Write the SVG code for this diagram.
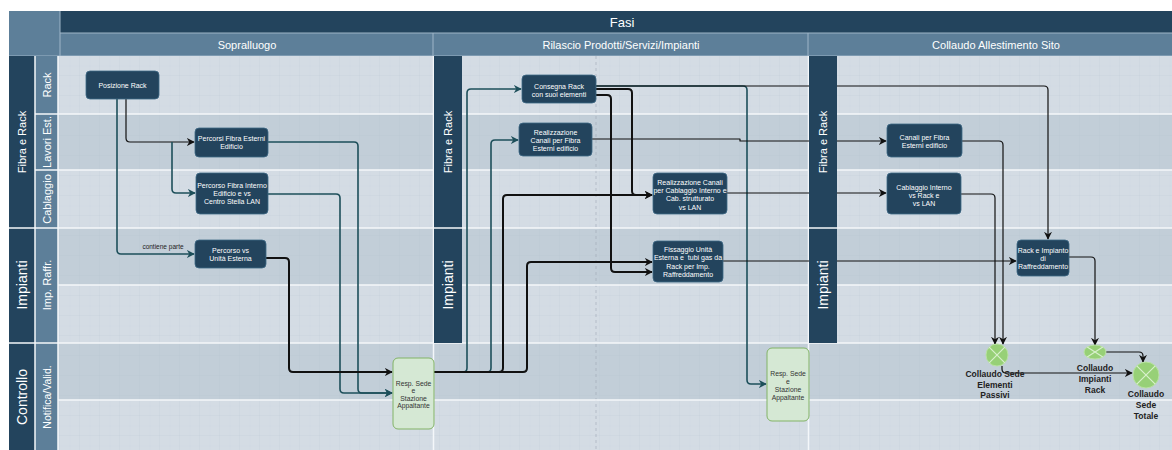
<svg xmlns="http://www.w3.org/2000/svg" width="1172" height="450" viewBox="0 0 1172 450">
<style>
.hdr{fill:#23445d}
.mid{fill:#5d7f99}
.lite{fill:#d4dce4}
.dark{fill:#c2ced8}
.sep{stroke:#f4f7fa;stroke-width:1.5;fill:none}
.ht{font-family:"Liberation Sans",Arial,sans-serif;fill:#fff;text-anchor:middle}
.lt{font-family:"Liberation Sans",Arial,sans-serif;fill:#fff;text-anchor:middle;dominant-baseline:central}
.node rect{fill:#23445d;stroke:#3d6a87;stroke-width:0.8}
.nt{font-family:"Liberation Sans",Arial,sans-serif;font-size:7px;fill:#fff;text-anchor:middle}
.gn rect{fill:#d5e8d4;stroke:#82b366;stroke-width:1}
.gt{font-family:"Liberation Sans",Arial,sans-serif;font-size:6.8px;fill:#333;text-anchor:middle}
.ct{font-family:"Liberation Sans",Arial,sans-serif;font-size:8.5px;font-weight:bold;fill:#222;text-anchor:middle}
.circ{fill:#97d077;stroke:#b9e2a3;stroke-width:1}
.x{stroke:#d8f0cc;stroke-width:1.2}
.k{fill:none;stroke:#111;stroke-width:1.2;stroke-linejoin:round}
.k2{fill:none;stroke:#111;stroke-width:2;stroke-linejoin:round}
.t{fill:none;stroke:#1d4f5a;stroke-width:1.6;stroke-linejoin:round}
</style>
<defs>
<pattern id="grid" width="20" height="20" patternUnits="userSpaceOnUse" x="0" y="16">
<path d="M20,0 V20 M0,20 H20" fill="none" stroke="#aebccb" stroke-width="0.5" opacity="0.55"/>
<path d="M10,0 V20 M0,10 H20" fill="none" stroke="#b8c5d1" stroke-width="0.4" opacity="0.3"/>
</pattern>
<marker id="ak" viewBox="0 0 10 10" refX="9" refY="5" markerWidth="8" markerHeight="8" markerUnits="userSpaceOnUse" orient="auto">
<path d="M0,0 L10,5 L0,10 L3,5 Z" fill="#111"/>
</marker>
<marker id="at" viewBox="0 0 10 10" refX="9" refY="5" markerWidth="8" markerHeight="8" markerUnits="userSpaceOnUse" orient="auto">
<path d="M0,0 L10,5 L0,10 L3,5 Z" fill="#1d4f5a"/>
</marker>
</defs>

<g id="background">
<rect x="0" y="0" width="1172" height="450" fill="#fff"/>
<rect x="9" y="11" width="51" height="45" class="mid"/>
<rect x="60" y="11" width="1112" height="22" class="hdr"/>
<rect x="60" y="33" width="1112" height="23" class="mid"/>
<line x1="60" y1="33" x2="1172" y2="33" stroke="#9fb6c8" stroke-width="1"/>
<line x1="60" y1="11" x2="60" y2="56" stroke="#9fb6c8" stroke-width="1"/>
<line x1="433" y1="33" x2="433" y2="56" stroke="#9fb6c8" stroke-width="1"/>
<line x1="808" y1="33" x2="808" y2="56" stroke="#9fb6c8" stroke-width="1"/>
<line x1="9" y1="56" x2="1172" y2="56" stroke="#9fb6c8" stroke-width="1"/>
<text class="ht" x="622" y="26.5" font-size="13">Fasi</text>
<text class="ht" x="247" y="48.5" font-size="11">Sopralluogo</text>
<text class="ht" x="621" y="48.5" font-size="11">Rilascio Prodotti/Servizi/Impianti</text>
<text class="ht" x="996" y="48.5" font-size="11">Collaudo Allestimento Sito</text>

<rect x="9" y="56" width="26" height="394" class="hdr"/>
<rect x="35" y="56" width="23" height="394" class="mid"/>

<rect x="58" y="56" width="1114" height="58" class="lite"/>
<rect x="58" y="114" width="1114" height="56" class="dark"/>
<rect x="58" y="170" width="1114" height="58" class="lite"/>
<rect x="58" y="228" width="1114" height="57" class="dark"/>
<rect x="58" y="285" width="1114" height="58" class="lite"/>
<rect x="58" y="343" width="1114" height="57" class="dark"/>
<rect x="58" y="400" width="1114" height="50" class="lite"/>
<rect x="58" y="56" width="1114" height="394" fill="url(#grid)"/>
<line x1="596" y1="56" x2="596" y2="450" stroke="#9eaab6" stroke-width="0.6" stroke-dasharray="3 3"/>

<line class="sep" x1="35" y1="114" x2="1172" y2="114"/>
<line class="sep" x1="35" y1="170" x2="1172" y2="170"/>
<line class="sep" x1="9" y1="228" x2="1172" y2="228"/>
<line class="sep" x1="58" y1="285" x2="1172" y2="285"/>
<line class="sep" x1="9" y1="343" x2="1172" y2="343"/>
<line class="sep" x1="58" y1="400" x2="1172" y2="400"/>
<line class="sep" x1="35" y1="56" x2="35" y2="450"/>
<line class="sep" x1="58" y1="56" x2="58" y2="450"/>
<line class="sep" x1="433.5" y1="56" x2="433.5" y2="450"/>
<line class="sep" x1="808.5" y1="56" x2="808.5" y2="450"/>

<text class="lt" font-size="11" transform="translate(22,142) rotate(-90)">Fibra e Rack</text>
<text class="lt" font-size="14" transform="translate(22,285) rotate(-90)">Impianti</text>
<text class="lt" font-size="14" transform="translate(22,397) rotate(-90)">Controllo</text>
<text class="lt" font-size="11" transform="translate(47,85) rotate(-90)">Rack</text>
<text class="lt" font-size="11" transform="translate(47,142) rotate(-90)">Lavori Est.</text>
<text class="lt" font-size="11" transform="translate(47,199) rotate(-90)">Cablaggio</text>
<text class="lt" font-size="11" transform="translate(47,285) rotate(-90)">Imp. Raffr.</text>
<text class="lt" font-size="10.5" transform="translate(47,397) rotate(-90)">Notifica/Valid.</text>
</g>

<g id="connectors">
<path class="t" d="M117,99 V250 Q117,254 121,254 H194" marker-end="url(#at)"/>
<text x="163" y="249" font-family="Liberation Sans, Arial, sans-serif" font-size="6.5" fill="#222" text-anchor="middle">contiene parte</text>
<path class="k" d="M126,99 V138 Q126,142 130,142 H194" marker-end="url(#ak)"/>
<path class="t" d="M172,142 V189 Q172,193 176,193 H195" marker-end="url(#at)"/>
<path class="t" d="M268,142 H354 Q358,142 358,146 V389 Q358,393 362,393 H392" marker-end="url(#at)"/>
<path class="t" d="M268,194 H336 Q340,194 340,198 V389 Q340,393 344,393 H392" marker-end="url(#at)"/>
<path class="k2" d="M266,258 H285 Q289,258 289,262 V368 Q289,372 293,372 H392" marker-end="url(#ak)"/>

<path class="t" d="M434,372 H463 Q467,372 467,368 V93 Q467,89 471,89 H521" marker-end="url(#at)"/>
<path class="t" d="M434,372 H487 Q491,372 491,368 V144 Q491,140 495,140 H518" marker-end="url(#at)"/>
<path class="k2" d="M434,372 H499 Q503,372 503,368 V199 Q503,195 507,195 H652" marker-end="url(#ak)"/>
<path class="k2" d="M434,372 H523 Q527,372 527,368 V266 Q527,262 531,262 H652" marker-end="url(#ak)"/>

<path class="t" d="M596,86 H743 Q747,86 747,90 V380 Q747,384 751,384 H766" marker-end="url(#at)"/>
<path class="k" d="M596,86 H1044 Q1048,86 1048,90 V239" marker-end="url(#ak)"/>
<path class="k2" d="M596,89 H628 Q632,89 632,93 V191 Q632,195 636,195 H652" marker-end="url(#ak)"/>
<path class="k2" d="M596,95 H607 Q611,95 611,99 V268 Q611,272 615,272 H652" marker-end="url(#ak)"/>

<path class="k" d="M592,139 H740 V141 H886" marker-end="url(#ak)"/>
<path class="k" d="M727,193 H886" marker-end="url(#ak)"/>
<path class="k" d="M723,261 H1016" marker-end="url(#ak)"/>

<path class="k" d="M962,141 H999 Q1003,141 1003,145 V344" marker-end="url(#ak)"/>
<path class="k" d="M961,194 H991 Q995,194 995,198 V344" marker-end="url(#ak)"/>
<path class="k" d="M1069,257 H1091 Q1095,257 1095,261 V345" marker-end="url(#ak)"/>
<path class="k" d="M1106,352 H1139 Q1143,352 1143,356 V362" marker-end="url(#ak)"/>
<path class="k" d="M1002,366 V369 Q1002,373 1006,373 H1132" marker-end="url(#ak)"/>
</g>

<g id="phase-pool-bars">
<rect x="434" y="56" width="28" height="172" class="hdr"/>
<rect x="434" y="228" width="28" height="115" class="hdr"/>
<rect x="809" y="56" width="28" height="172" class="hdr"/>
<rect x="809" y="228" width="28" height="115" class="hdr"/>
<line class="sep" x1="434" y1="228" x2="462" y2="228"/>
<line class="sep" x1="809" y1="228" x2="837" y2="228"/>
<text class="lt" font-size="11" transform="translate(448,142) rotate(-90)">Fibra e Rack</text>
<text class="lt" font-size="14" transform="translate(448,285) rotate(-90)">Impianti</text>
<text class="lt" font-size="11" transform="translate(823,142) rotate(-90)">Fibra e Rack</text>
<text class="lt" font-size="14" transform="translate(823,285) rotate(-90)">Impianti</text>
</g>

<g id="n-posizione-rack" class="node"><rect x="86" y="71" width="73" height="28" rx="4"/><text class="nt" x="122.5" y="87.5">Posizione Rack</text></g>
<g id="n-percorsi-fibra-esterni" class="node"><rect x="195" y="128" width="73" height="29" rx="4"/><text class="nt" x="231.5" y="141">Percorsi Fibra Esterni</text><text class="nt" x="231.5" y="149">Edificio</text></g>
<g id="n-percorso-fibra-interno" class="node"><rect x="196" y="173" width="72" height="41" rx="4"/><text class="nt" x="232" y="188">Percorso Fibra Interno</text><text class="nt" x="232" y="196">Edificio e vs</text><text class="nt" x="232" y="204">Centro Stella LAN</text></g>
<g id="n-percorso-unita-esterna" class="node"><rect x="195" y="240" width="71" height="28" rx="4"/><text class="nt" x="230.5" y="252.5">Percorso vs</text><text class="nt" x="230.5" y="260.5">Unità Esterna</text></g>
<g id="n-resp-sede-1" class="gn"><rect x="393" y="358" width="41" height="71" rx="5"/><text class="gt" x="413.5" y="385.5">Resp. Sede</text><text class="gt" x="413.5" y="393">e</text><text class="gt" x="413.5" y="400.5">Stazione</text><text class="gt" x="413.5" y="408">Appaltante</text></g>

<g id="n-consegna-rack" class="node"><rect x="522" y="75" width="74" height="28" rx="4"/><text class="nt" x="559" y="88.5">Consegna Rack</text><text class="nt" x="559" y="96.5">con suoi elementi</text></g>
<g id="n-realizzazione-canali-fibra" class="node"><rect x="519" y="123" width="73" height="33" rx="4"/><text class="nt" x="555.5" y="134.5">Realizzazione</text><text class="nt" x="555.5" y="142.5">Canali per Fibra</text><text class="nt" x="555.5" y="150.5">Esterni edificio</text></g>
<g id="n-realizzazione-canali-cablaggio" class="node"><rect x="653" y="173" width="74" height="41" rx="4"/><text class="nt" x="690" y="184.5">Realizzazione Canali</text><text class="nt" x="690" y="192.5">per Cablaggio Interno e</text><text class="nt" x="690" y="201">Cab. strutturato</text><text class="nt" x="690" y="209.5">vs LAN</text></g>
<g id="n-fissaggio-unita" class="node"><rect x="653" y="241" width="70" height="41" rx="4"/><text class="nt" x="688" y="251.5">Fissaggio Unità</text><text class="nt" x="688" y="260" xml:space="preserve">Esterna e  tubi gas da</text><text class="nt" x="688" y="268.5">Rack per Imp.</text><text class="nt" x="688" y="276.5">Raffreddamento</text></g>
<g id="n-resp-sede-2" class="gn"><rect x="767" y="348" width="42" height="73" rx="5"/><text class="gt" x="788" y="376">Resp. Sede</text><text class="gt" x="788" y="384">e</text><text class="gt" x="788" y="392">Stazione</text><text class="gt" x="788" y="400">Appaltante</text></g>

<g id="n-canali-fibra-esterni" class="node"><rect x="887" y="124" width="75" height="33" rx="4"/><text class="nt" x="924.5" y="139.5">Canali per Fibra</text><text class="nt" x="924.5" y="147.5">Esterni edificio</text></g>
<g id="n-cablaggio-interno" class="node"><rect x="887" y="173" width="74" height="41" rx="4"/><text class="nt" x="924" y="189.5">Cablaggio Interno</text><text class="nt" x="924" y="197.5">vs Rack e</text><text class="nt" x="924" y="205.5">vs LAN</text></g>
<g id="n-rack-impianto" class="node"><rect x="1017" y="240" width="52" height="36" rx="4"/><text class="nt" x="1043" y="252.5">Rack e Impianto</text><text class="nt" x="1043" y="260.5">di</text><text class="nt" x="1043" y="269">Raffreddamento</text></g>

<g id="n-collaudo-sede-elementi">
<circle class="circ" cx="997" cy="355" r="11"/>
<path class="x" d="M989.2,347.2 L1004.8,362.8 M1004.8,347.2 L989.2,362.8"/>
<text class="ct" x="995" y="377">Collaudo Sede</text><text class="ct" x="995" y="387.5">Elementi</text><text class="ct" x="995" y="398">Passivi</text>
</g>
<g id="n-collaudo-impianti-rack">
<ellipse class="circ" cx="1095" cy="352" rx="11" ry="7"/>
<path class="x" d="M1087.2,347 L1102.8,357 M1102.8,347 L1087.2,357"/>
<text class="ct" x="1095" y="371">Collaudo</text><text class="ct" x="1095" y="381.5">Impianti</text><text class="ct" x="1095" y="392.5">Rack</text>
</g>
<g id="n-collaudo-sede-totale">
<circle class="circ" cx="1146" cy="375" r="13"/>
<path class="x" d="M1136.8,365.8 L1155.2,384.2 M1155.2,365.8 L1136.8,384.2"/>
<text class="ct" x="1146" y="397">Collaudo</text><text class="ct" x="1146" y="408">Sede</text><text class="ct" x="1146" y="418.5">Totale</text>
</g>
</svg>
